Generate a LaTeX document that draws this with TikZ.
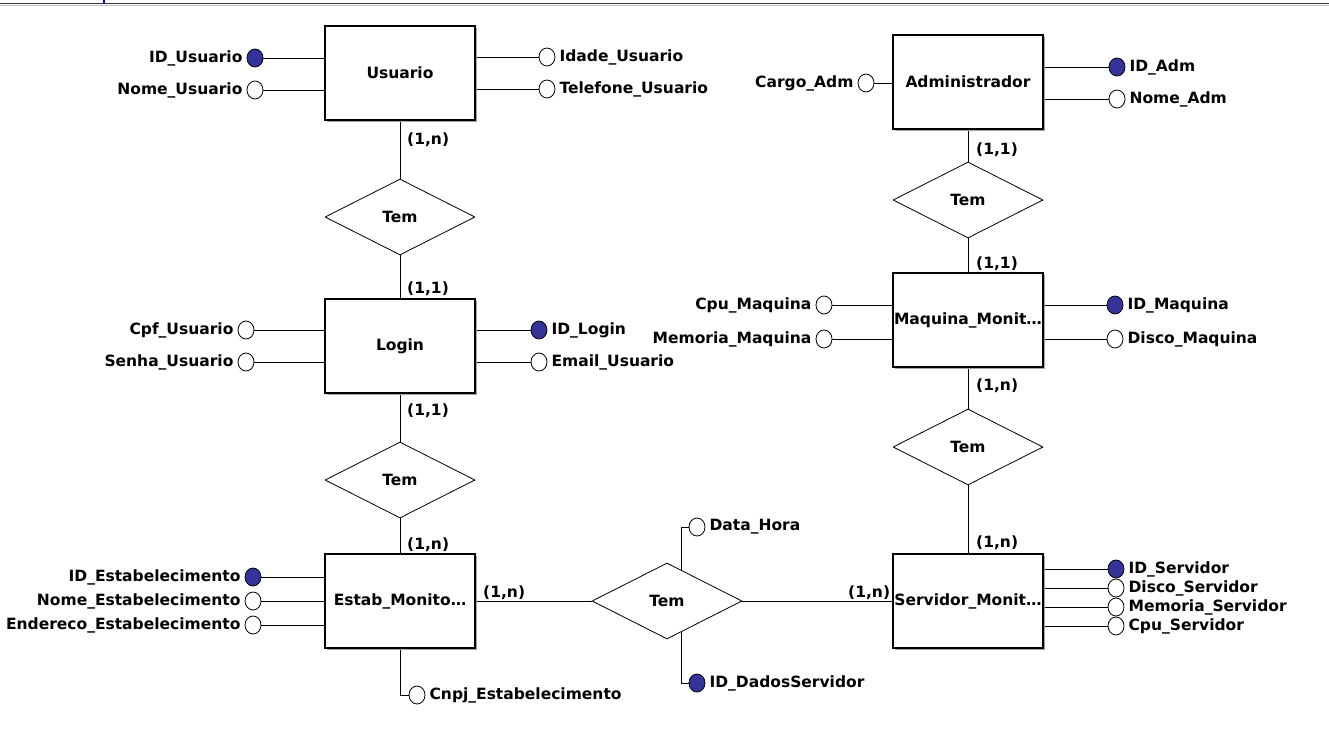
\documentclass[tikz,border=0pt]{standalone}
\usepackage{fontspec}
\setmainfont{DejaVu Sans}
\usetikzlibrary{shapes.geometric,shadows,backgrounds}

\definecolor{keyblue}{RGB}{51,51,153}

\tikzstyle{entity}=[rectangle,draw,line width=1.2pt,fill=white,minimum width=150pt,minimum height=94pt,inner sep=0pt,drop shadow={shadow xshift=2pt,shadow yshift=-2pt,fill=black!35,opacity=1}]
\tikzstyle{relation}=[diamond,draw,fill=white,line width=0.8pt,minimum width=150pt,minimum height=76pt,inner sep=0pt]
\tikzstyle{attr}=[ellipse,draw,fill=white,line width=0.8pt,minimum width=16pt,minimum height=18pt,inner sep=0pt]
\tikzstyle{key}=[attr,fill=keyblue]
\tikzstyle{lbl}=[inner sep=0pt,label distance=4pt]
\tikzstyle{card}=[inner sep=0pt]
\tikzstyle{edge}=[draw,line width=1pt]

\begin{document}
\begin{tikzpicture}[x=1pt,y=-1pt,font=\fontsize{15.5}{18}\selectfont\bfseries]
  \useasboundingbox (0,0) rectangle (1329,731);
  \draw[black!80,line width=1pt] (0,3.5) -- (1329,3.5);
  \draw[black!25,line width=1pt] (0,5) -- (1329,5);
  \draw[blue,line width=1.2pt] (104,0) -- (104,3);

  % entidades
  \foreach \pos/\name/\txt in {{(400,73)/usuario/Usuario}, {(400,346)/login/Login},
    {(400,601)/estab/Estab\_Monito\ldots}, {(968,82)/admin/Administrador},
    {(968,320)/maquina/Maquina\_Monit\ldots}, {(968,601)/servidor/Servidor\_Monit\ldots}}
    \node[entity] (\name) at \pos {\txt};

  % relacionamentos
  \foreach \pos/\name in {{(400,217)/temA}, {(400,480)/temB}, {(968,200)/temC},
    {(968,447)/temD}, {(667,601)/temE}}
    \node[relation] (\name) at \pos {Tem};

  % atributos
  \foreach \pos/\name/\kind/\side/\txt in {
    {(255,58)/idusuario/key/left/ID\_Usuario}, {(255,90)/nomeusuario/attr/left/Nome\_Usuario},
    {(547,57)/idadeusuario/attr/right/Idade\_Usuario}, {(547,89)/telefoneusuario/attr/right/Telefone\_Usuario},
    {(246,330)/cpfusuario/attr/left/Cpf\_Usuario}, {(246,362)/senhausuario/attr/left/Senha\_Usuario},
    {(539,330)/idlogin/key/right/ID\_Login}, {(539,362)/emailusuario/attr/right/Email\_Usuario},
    {(253,577)/idestab/key/left/ID\_Estabelecimento}, {(253,601)/nomeestab/attr/left/Nome\_Estabelecimento},
    {(253,625)/enderecoestab/attr/left/Endereco\_Estabelecimento},
    {(417,695)/cnpjestab/attr/right/Cnpj\_Estabelecimento},
    {(697,527)/datahora/attr/right/Data\_Hora}, {(697,683)/iddados/key/right/ID\_DadosServidor},
    {(866,83)/cargoadm/attr/left/Cargo\_Adm},
    {(1117,67)/idadm/key/right/ID\_Adm}, {(1117,99)/nomeadm/attr/right/Nome\_Adm},
    {(824,305)/cpumaquina/attr/left/Cpu\_Maquina}, {(824,339)/memoriamaquina/attr/left/Memoria\_Maquina},
    {(1115,305)/idmaquina/key/right/ID\_Maquina}, {(1115,339)/discomaquina/attr/right/Disco\_Maquina},
    {(1116,569)/idservidor/key/right/ID\_Servidor}, {(1116,588)/discoservidor/attr/right/Disco\_Servidor},
    {(1116,607)/memoriaservidor/attr/right/Memoria\_Servidor}, {(1116,626)/cpuservidor/attr/right/Cpu\_Servidor}}
    \node[\kind,label={[lbl]\side:\txt}] (\name) at \pos {};

  % cardinalidades
  \foreach \pos/\name/\txt in {{(407,140)/cA/(1,n)}, {(407,289)/cB/(1,1)}, {(407,411)/cC/(1,1)},
    {(407,545)/cD/(1,n)}, {(483,593)/cE/(1,n)}, {(848,593)/cF/(1,n)},
    {(976,150)/cG/(1,1)}, {(976,264)/cH/(1,1)}, {(976,386)/cI/(1,n)}, {(976,543)/cJ/(1,n)}}
    \node[card,anchor=west] (\name) at \pos {\txt};

  \begin{scope}[on background layer]
    \foreach \source/\dest in {usuario/temA, temA/login, login/temB, temB/estab,
      admin/temC, temC/maquina, maquina/temD, temD/servidor, estab/temE, temE/servidor}
      \path[edge] (\source) -- (\dest);

    \foreach \ent/\name in {usuario/idusuario, usuario/nomeusuario, usuario/idadeusuario,
      usuario/telefoneusuario, login/cpfusuario, login/senhausuario, login/idlogin,
      login/emailusuario, estab/idestab, estab/nomeestab, estab/enderecoestab,
      admin/cargoadm, admin/idadm, admin/nomeadm, maquina/cpumaquina, maquina/memoriamaquina,
      maquina/idmaquina, maquina/discomaquina, servidor/idservidor, servidor/discoservidor,
      servidor/memoriaservidor, servidor/cpuservidor}
      \path[edge] (\name) -- (\ent |- \name);

    \path[edge] (estab) |- (cnpjestab);
    \path[edge] ([xshift=14pt]temE.center) |- (datahora);
    \path[edge] ([xshift=14pt]temE.center) |- (iddados);
  \end{scope}
\end{tikzpicture}
\end{document}
